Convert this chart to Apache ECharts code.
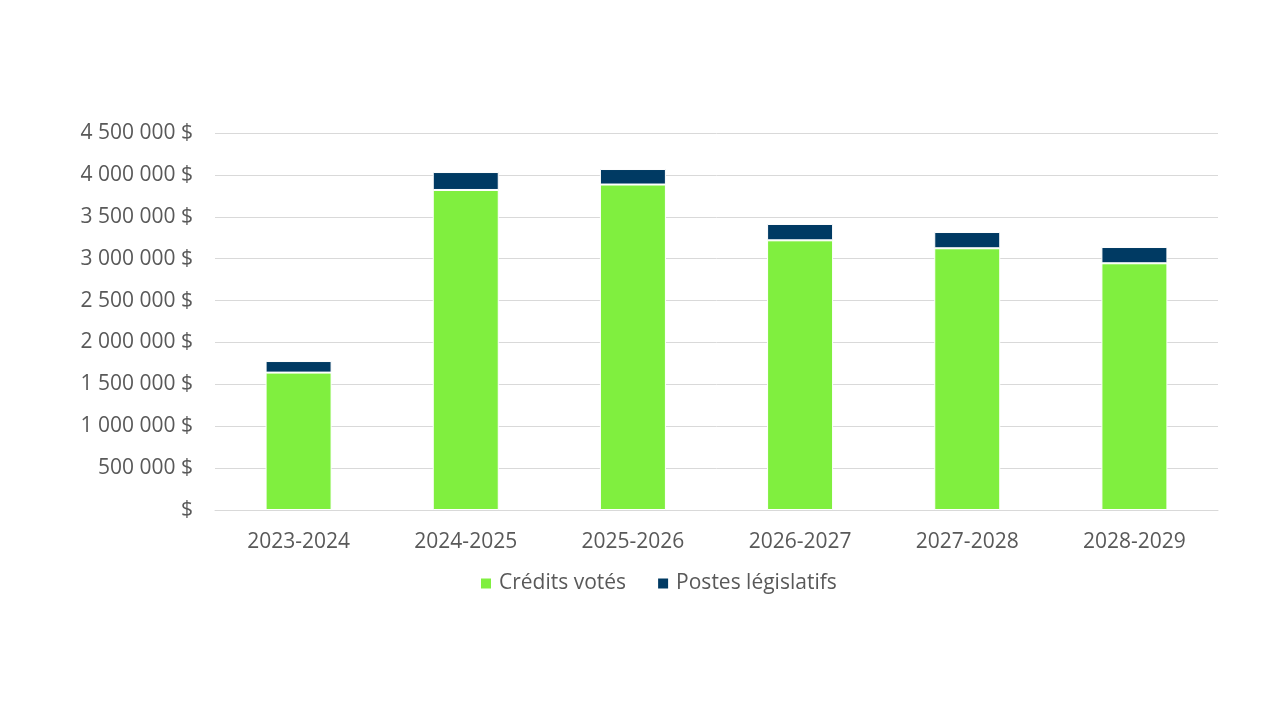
<!DOCTYPE html>
<html>
<head>
<meta charset="utf-8">
<script src="https://cdn.jsdelivr.net/npm/echarts@6/dist/echarts.min.js"></script>
<style>
html,body{margin:0;padding:0;background:#fff;}
#c{width:1280px;height:720px;}
</style>
</head>
<body>
<div id="c"></div>
<script>
const categories = ['2023-2024','2024-2025','2025-2026','2026-2027','2027-2028','2028-2029'];
const creditsVotes = [1640000, 3820000, 3885000, 3219000, 3124000, 2945000];
const postesLegislatifs = [138000, 214000, 185000, 195000, 194000, 194000];
const seriesNames = ['Crédits votés', 'Postes législatifs'];

function fmt(v){
  if (v === 0) return '$';
  const s = String(Math.round(v)).replace(/\B(?=(\d{3})+(?!\d))/g, ' ');
  return s + ' $';
}

const chart = echarts.init(document.getElementById('c'));
const font = '"Open Sans", "Liberation Sans", sans-serif';
chart.setOption({
  animation: false,
  textStyle: { fontFamily: font },
  grid: { left: 215, right: 62, top: 133, bottom: 210, containLabel: false },
  legend: {
    data: seriesNames,
    bottom: 121,
    left: 474,
    itemWidth: 12, itemHeight: 12, itemGap: 30,
    icon: 'rect',
    textStyle: { color: '#595959', fontSize: 21, fontFamily: font, padding: [0, 0, 0, 2] }
  },
  xAxis: {
    type: 'category',
    data: categories,
    axisLine: { lineStyle: { color: '#d9d9d9' } },
    axisTick: { show: false },
    axisLabel: { color: '#595959', fontSize: 21, margin: 22, fontFamily: font }
  },
  yAxis: {
    type: 'value',
    min: 0, max: 4500000, interval: 500000,
    axisLine: { show: false },
    axisTick: { show: false },
    splitLine: { lineStyle: { color: '#d9d9d9' } },
    axisLabel: { color: '#595959', fontSize: 21, margin: 22, formatter: fmt, fontFamily: font }
  },
  series: [
    {
      name: seriesNames[0], type: 'bar', stack: 't', data: creditsVotes, barWidth: 66,
      itemStyle: { color: '#80EF3F', borderColor: '#fff', borderWidth: 1 }
    },
    {
      name: seriesNames[1], type: 'bar', stack: 't', data: postesLegislatifs, barWidth: 66,
      itemStyle: { color: '#003A63', borderColor: '#fff', borderWidth: 1 }
    }
  ]
});
</script>
</body>
</html>
